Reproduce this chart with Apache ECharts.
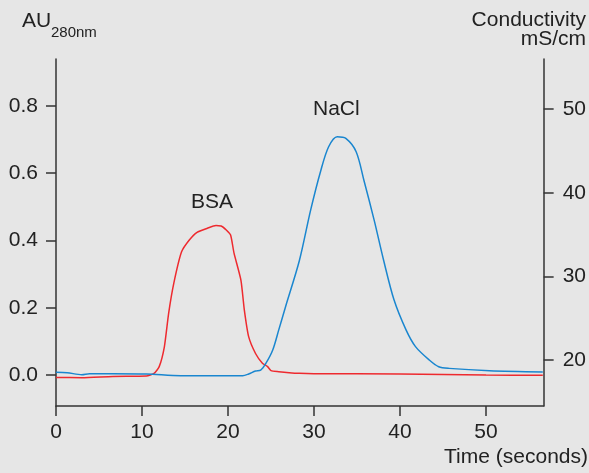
<!DOCTYPE html>
<html>
<head>
<meta charset="UTF-8">
<title>BSA / NaCl</title>
<script src="https://cdn.jsdelivr.net/npm/echarts@6/dist/echarts.min.js"></script>
<style>
	html, body { margin: 0; padding: 0; background: #e6e6e6; }
	#chart { width: 589px; height: 473px; }
</style>
</head>
<body>
<div id="chart"></div>
<script type="text/javascript">
// 时间 (秒) 与吸光度 AU280nm
var bsaTime = [0, 3, 6.6, 10.5, 11.4, 12.0, 12.6, 13.1, 13.7, 14.6, 15.5, 16.4, 17.6, 18.6, 19.2, 19.8, 20.3, 20.7, 21.5, 21.9, 22.4, 23.2, 24.0, 24.6, 25.0, 25.9, 27.1, 28.3, 30, 40, 50, 56.6];
var bsaAU = [-0.007, -0.008, -0.004, -0.003, 0.005, 0.025, 0.084, 0.184, 0.273, 0.366, 0.401, 0.424, 0.436, 0.444, 0.443, 0.431, 0.416, 0.362, 0.282, 0.193, 0.114, 0.064, 0.035, 0.025, 0.013, 0.010, 0.007, 0.005, 0.004, 0.003, 0.0, -0.001];

// 时间 (秒) 与电导率 mS/cm
var naclTime = [0, 1.3, 3.0, 3.9, 6.6, 10.5, 14.5, 21.7, 22.4, 23.2, 23.8, 24.4, 25.2, 25.9, 26.7, 28.3, 29.6, 30.8, 31.7, 32.7, 33.7, 34.9, 35.8, 37.0, 38.1, 39.3, 40.7, 41.8, 43.4, 44.5, 45.7, 50.4, 56.6];
var naclCond = [18.53, 18.48, 18.24, 18.36, 18.36, 18.33, 18.12, 18.12, 18.33, 18.69, 18.8, 19.6, 21.2, 23.6, 26.4, 31.9, 37.9, 42.7, 45.5, 46.7, 46.5, 44.9, 41.5, 36.7, 31.9, 27.2, 23.6, 21.6, 20.0, 19.2, 19.0, 18.72, 18.57];

// 刻度
var timeTicks = [0, 10, 20, 30, 40, 50];
var auTicks = [0, 0.2, 0.4, 0.6, 0.8];
var condTicks = [20, 30, 40, 50];

function zip(xs, ys) {
	var out = [];
	for (var i = 0; i < xs.length; i++) {
		out.push([xs[i], ys[i]]);
	}
	return out;
}

var axisColor = '#333333';
var textColor = '#222222';
var font = 'Liberation Sans, Arial, sans-serif';

var myChart = echarts.init(document.getElementById('chart'));

var option = {
	backgroundColor: '#e6e6e6',
	animation: false,
	grid: { left: 56, right: 44, top: 59, bottom: 67 },
	xAxis: {
		type: 'value',
		min: 0,
		max: 56.7,
		splitLine: { show: false },
		axisLine: { onZero: false, lineStyle: { color: axisColor, width: 1.5 } },
		axisTick: { length: 10, customValues: timeTicks, lineStyle: { color: axisColor, width: 1.5 } },
		axisLabel: { customValues: timeTicks, margin: 16, fontSize: 21, color: textColor, fontFamily: font }
	},
	yAxis: [{
		type: 'value',
		min: -0.092,
		max: 0.939,
		splitLine: { show: false },
		axisLine: { show: true, lineStyle: { color: axisColor, width: 1.5 } },
		axisTick: { show: true, length: 10, customValues: auTicks, lineStyle: { color: axisColor, width: 1.5 } },
		axisLabel: {
			customValues: auTicks, margin: 18, fontSize: 21, color: textColor, fontFamily: font,
			formatter: function (v) { return v.toFixed(1); }
		}
	}, {
		type: 'value',
		position: 'right',
		min: 14.5,
		max: 56,
		splitLine: { show: false },
		axisLine: { show: true, lineStyle: { color: axisColor, width: 1.5 } },
		axisTick: { show: true, length: 10, customValues: condTicks, lineStyle: { color: axisColor, width: 1.5 } },
		axisLabel: { customValues: condTicks, margin: 19, fontSize: 21, color: textColor, fontFamily: font }
	}],
	graphic: [
		{ type: 'text', left: 22, top: 11, style: { text: 'AU', fontSize: 21, fill: textColor, fontFamily: font } },
		{ type: 'text', left: 51, top: 25, style: { text: '280nm', fontSize: 15, fill: textColor, fontFamily: font } },
		{ type: 'text', right: 3, top: 10, style: { text: 'Conductivity', fontSize: 21, fill: textColor, fontFamily: font } },
		{ type: 'text', right: 3, top: 29, style: { text: 'mS/cm', fontSize: 21, fill: textColor, fontFamily: font } },
		{ type: 'text', right: 1, top: 447, style: { text: 'Time (seconds)', fontSize: 21, fill: textColor, fontFamily: font } },
		{ type: 'text', left: 191, top: 192, style: { text: 'BSA', fontSize: 21, fill: textColor, fontFamily: font } },
		{ type: 'text', left: 313, top: 99, style: { text: 'NaCl', fontSize: 21, fill: textColor, fontFamily: font } }
	],
	series: [{
		name: 'BSA',
		type: 'line',
		yAxisIndex: 0,
		data: zip(bsaTime, bsaAU),
		smooth: 0.2,
		showSymbol: false,
		lineStyle: { color: '#ee2a2f', width: 1.5 },
		itemStyle: { color: '#ee2a2f' },
		z: 2
	}, {
		name: 'NaCl',
		type: 'line',
		yAxisIndex: 1,
		data: zip(naclTime, naclCond),
		smooth: 0.3,
		showSymbol: false,
		lineStyle: { color: '#1a86cf', width: 1.5 },
		itemStyle: { color: '#1a86cf' },
		z: 3
	}]
};

myChart.setOption(option);
</script>
</body>
</html>
